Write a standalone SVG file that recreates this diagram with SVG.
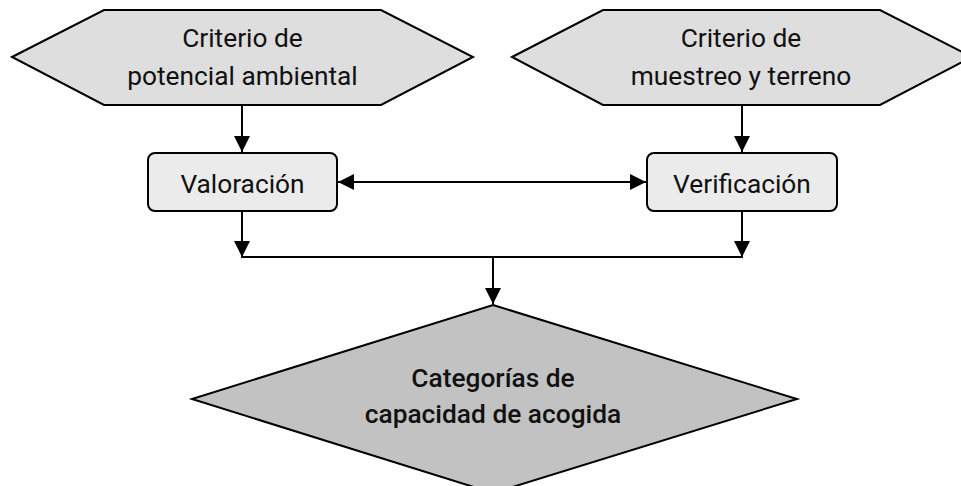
<svg xmlns="http://www.w3.org/2000/svg" width="961" height="486" viewBox="0 0 961 486">
<defs>
<style>
.hex{fill:#dedede;stroke:#000;stroke-width:2;stroke-linejoin:miter}
.box{fill:#ebebeb;stroke:#000;stroke-width:2}
.dia{fill:#c2c2c2;stroke:#000;stroke-width:2}
.t{font-family:Roboto,"Liberation Sans",sans-serif;font-size:26.3px;fill:#111;text-anchor:middle}
.tb{font-family:Roboto,"Liberation Sans",sans-serif;font-size:26.3px;font-weight:500;fill:#111;text-anchor:middle}
.c{fill:none;stroke:#000;stroke-width:2}
</style>
<marker id="ah" markerUnits="userSpaceOnUse" markerWidth="16" markerHeight="16" viewBox="0 0 15 15" refX="15" refY="7.5" orient="auto-start-reverse">
<path d="M0,0 L15,7.5 L0,15 z" fill="#000"/>
</marker>
</defs>
<rect width="961" height="486" fill="#fff"/>
<g id="conn">
<line class="c" x1="242" y1="105" x2="242" y2="152" marker-end="url(#ah)"/>
<line class="c" x1="742" y1="105" x2="742" y2="152" marker-end="url(#ah)"/>
<line class="c" x1="338" y1="182" x2="646" y2="182" marker-start="url(#ah)" marker-end="url(#ah)"/>
<line class="c" x1="242" y1="211" x2="242" y2="257" marker-end="url(#ah)"/>
<line class="c" x1="742" y1="211" x2="742" y2="257" marker-end="url(#ah)"/>
<line class="c" x1="241" y1="257" x2="743" y2="257"/>
<line class="c" x1="493" y1="257" x2="493" y2="304" marker-end="url(#ah)"/>
</g>
<g id="hex1">
<polygon class="hex" points="12,57 104,10 381,10 473,57 381,105 104,105"/>
<text class="t" x="242.5" y="47">Criterio de</text>
<text class="t" x="242.5" y="85">potencial ambiental</text>
</g>
<g id="hex2">
<polygon class="hex" points="512,57 603,10 880,10 972,57 880,105 603,105"/>
<text class="t" x="741" y="47">Criterio de</text>
<text class="t" x="741" y="85">muestreo y terreno</text>
</g>
<g id="valoracion">
<rect class="box" x="148" y="153" width="189" height="58" rx="7"/>
<text class="t" x="242.5" y="193">Valoración</text>
</g>
<g id="verificacion">
<rect class="box" x="647" y="153" width="190" height="58" rx="7"/>
<text class="t" x="742" y="193">Verificación</text>
</g>
<g id="categorias">
<polygon class="dia" points="493,305 797,399 493,493 192,399"/>
<text class="tb" x="493" y="387">Categorías de</text>
<text class="tb" x="493" y="423">capacidad de acogida</text>
</g>
</svg>
